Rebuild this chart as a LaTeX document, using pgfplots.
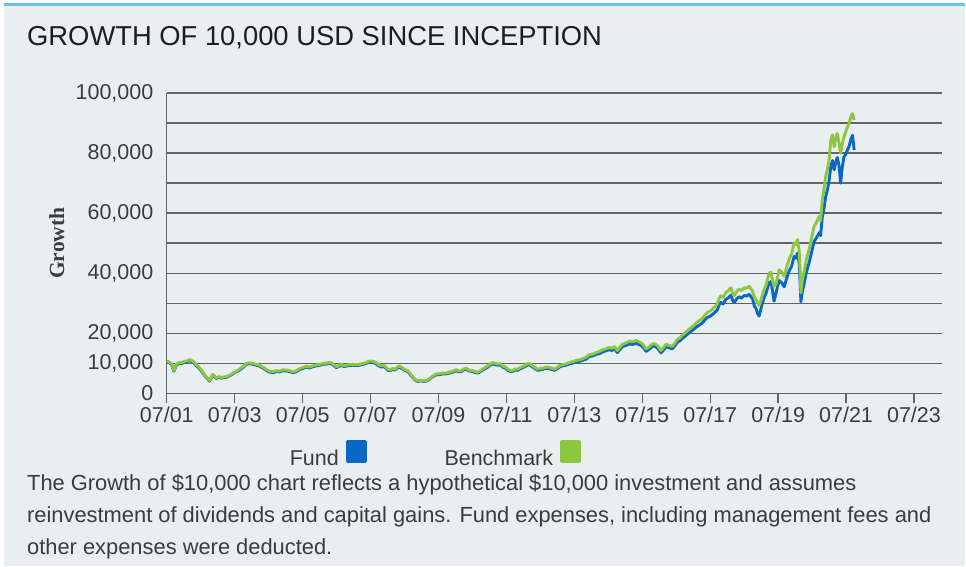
\documentclass[border=0pt]{standalone}
\usepackage{fontspec}
\setmainfont{Liberation Sans}
\newfontfamily\serifbold{Liberation Serif}
\usepackage{pgfplots}
\usepackage{pgfplotstable}
\pgfplotsset{compat=1.18}
\definecolor{bg}{HTML}{E9EEF1}
\definecolor{topline}{HTML}{62C4EE}
\definecolor{gridc}{HTML}{5E6569}
\definecolor{fundc}{HTML}{0868C4}
\definecolor{benchc}{HTML}{8DC63F}
\definecolor{txt}{HTML}{3C3C3C}
\definecolor{titlec}{HTML}{1E1E1E}

\pgfplotstableread{
x fund bench
2001.50 10700 10800
2001.58 10200 10400
2001.64 9600 9800
2001.71 7400 7600
2001.78 9400 9700
2001.86 10000 10300
2001.93 9900 10200
2002.01 10400 10700
2002.08 10500 10800
2002.18 11000 11300
2002.24 10600 10900
2002.30 10200 10500
2002.36 9300 9600
2002.42 8800 9100
2002.50 7700 8000
2002.57 6700 6900
2002.64 5600 5800
2002.70 5000 5200
2002.75 4100 4300
2002.80 5000 5200
2002.86 6200 6400
2002.92 5400 5600
2002.96 5000 5200
2003.04 5400 5600
2003.11 5100 5300
2003.18 5300 5500
2003.25 5400 5600
2003.33 5800 6000
2003.40 6200 6400
2003.48 6800 7000
2003.55 7300 7500
2003.62 7600 7900
2003.70 8300 8600
2003.77 8900 9200
2003.84 9700 10000
2003.92 9900 10200
2003.99 9800 10100
2004.07 9600 9900
2004.14 9400 9700
2004.21 9200 9500
2004.28 8800 9100
2004.36 8300 8600
2004.43 7700 8000
2004.50 7200 7500
2004.56 7100 7400
2004.63 6900 7200
2004.72 7300 7600
2004.82 7200 7500
2004.92 7600 7900
2005.02 7500 7800
2005.12 7300 7600
2005.22 6900 7200
2005.32 7300 7600
2005.41 8000 8300
2005.50 8300 8600
2005.61 8800 9100
2005.70 8500 8800
2005.80 8900 9200
2005.90 9200 9500
2006.00 9400 9700
2006.10 9700 10000
2006.20 9800 10100
2006.27 10000 10300
2006.34 9900 10200
2006.42 9300 9600
2006.49 8600 8900
2006.57 9000 9300
2006.64 9400 9700
2006.71 9000 9300
2006.78 9100 9400
2006.88 9300 9600
2006.98 9400 9700
2007.08 9300 9600
2007.18 9400 9700
2007.27 9700 10000
2007.37 10000 10300
2007.47 10500 10800
2007.52 10400 10800
2007.60 10200 10600
2007.67 9800 10200
2007.74 9200 9600
2007.81 8800 9200
2007.88 9000 9400
2007.94 8500 8900
2008.01 7700 8000
2008.08 7600 7900
2008.14 8000 8300
2008.21 7800 8100
2008.28 8400 8700
2008.35 8800 9200
2008.40 8400 8800
2008.45 8100 8400
2008.52 7600 7900
2008.60 7300 7600
2008.67 6300 6600
2008.75 5200 5400
2008.82 4400 4600
2008.89 4000 4200
2008.96 4200 4400
2009.03 4100 4300
2009.09 4000 4200
2009.17 4300 4500
2009.24 4800 5000
2009.33 5600 5800
2009.43 6200 6500
2009.53 6300 6600
2009.63 6500 6800
2009.72 6500 6800
2009.82 6800 7100
2009.92 7100 7400
2010.02 7600 7900
2010.10 7200 7500
2010.17 7300 7600
2010.25 7900 8200
2010.32 8000 8400
2010.40 7500 7800
2010.51 7300 7600
2010.58 7000 7300
2010.66 6800 7100
2010.73 7300 7600
2010.80 7800 8100
2010.88 8300 8700
2010.95 8800 9200
2011.02 9400 9800
2011.10 9900 10300
2011.17 9600 10000
2011.24 9400 9800
2011.32 9500 9900
2011.39 8800 9200
2011.47 8400 8800
2011.54 7700 8100
2011.62 7300 7600
2011.69 7400 7700
2011.76 7800 8200
2011.83 7700 8100
2011.90 8200 8600
2011.98 8600 9000
2012.05 9000 9400
2012.13 9600 10000
2012.20 9400 9800
2012.27 8800 9200
2012.35 8200 8600
2012.42 7700 8100
2012.50 7900 8300
2012.57 8000 8400
2012.66 8400 8800
2012.76 8300 8700
2012.84 8000 8400
2012.91 7700 8100
2012.98 8100 8500
2013.06 8800 9200
2013.15 9200 9600
2013.25 9400 9800
2013.35 9800 10300
2013.45 10100 10600
2013.55 10500 11000
2013.65 10700 11200
2013.75 11100 11600
2013.84 11400 12000
2013.94 12300 12900
2014.04 12500 13100
2014.14 13000 13600
2014.24 13300 14000
2014.33 13800 14500
2014.43 14200 14900
2014.53 14600 15300
2014.60 14300 15000
2014.68 14900 15600
2014.73 14100 14800
2014.77 13600 14300
2014.85 14800 15600
2014.92 15600 16400
2015.02 16000 16800
2015.12 16500 17400
2015.22 16300 17200
2015.31 16700 17600
2015.38 16400 17300
2015.46 16000 16900
2015.54 15200 16000
2015.61 14000 14800
2015.68 14500 15300
2015.75 15200 16000
2015.82 15800 16600
2015.90 15600 16400
2015.97 14800 15600
2016.05 13500 14300
2016.12 14400 15200
2016.20 15500 16400
2016.28 15200 16000
2016.39 14900 15700
2016.46 15900 16800
2016.54 17100 18100
2016.62 17600 18600
2016.69 18400 19500
2016.78 19200 20400
2016.88 20200 21400
2016.98 21000 22300
2017.08 22000 23400
2017.17 22700 24200
2017.27 23500 25000
2017.35 24600 26200
2017.42 25300 27000
2017.50 25700 27400
2017.57 26300 28100
2017.64 27000 28900
2017.71 27800 29800
2017.76 29400 31500
2017.81 30300 32500
2017.88 29800 32000
2017.96 31300 33600
2018.03 31800 34200
2018.11 32700 35200
2018.16 31000 33400
2018.21 30200 32600
2018.28 31500 34000
2018.35 32200 34700
2018.42 31700 34200
2018.50 32600 35200
2018.57 32400 35000
2018.65 33000 35700
2018.70 32200 34800
2018.75 31400 34000
2018.80 29000 32000
2018.84 28500 31400
2018.90 26500 30000
2018.94 25800 29300
2018.99 28000 30800
2019.04 30300 33000
2019.09 32000 34700
2019.14 33200 36000
2019.20 35500 38500
2019.24 37000 40100
2019.29 37200 40300
2019.33 34500 38000
2019.38 30700 35700
2019.43 33000 36200
2019.48 35500 38500
2019.53 37600 41200
2019.60 36900 40500
2019.68 35500 39000
2019.75 38300 42000
2019.82 40600 44500
2019.90 42400 46500
2019.97 45600 50100
2020.02 45000 49500
2020.07 46700 51200
2020.12 43300 47500
2020.15 36000 40000
2020.17 30500 33500
2020.21 33800 37500
2020.26 36200 40100
2020.33 40300 44500
2020.41 43400 47800
2020.48 46800 51500
2020.56 50600 55600
2020.63 51800 57000
2020.71 53500 58900
2020.75 52500 57500
2020.80 58600 64400
2020.85 61500 68000
2020.90 65500 72200
2020.95 67700 74500
2021.00 70700 77700
2021.05 75500 84300
2021.10 77500 86000
2021.15 74400 82100
2021.20 77000 85000
2021.24 78500 86500
2021.29 76000 83500
2021.34 70000 79900
2021.39 75500 83000
2021.44 78800 85400
2021.49 79500 87000
2021.54 81000 88700
2021.59 82200 90000
2021.64 84500 92000
2021.69 85900 93100
2021.74 81000 91000
}\growthdata

\begin{document}
\begin{tikzpicture}[x=1pt,y=1pt]
\fill[white] (0,0) rectangle (966,567);
\fill[bg] (4,0) rectangle (966,563);
\draw[topline, line width=2.4pt] (4,562.5) -- (966,562.5);
\node[anchor=base west, inner sep=0pt, text=titlec] at (27,521)
  {\fontsize{27.4}{30}\selectfont GROWTH OF 10,000 USD SINCE INCEPTION};

\begin{axis}[
  at={(167pt,173pt)}, anchor=south west,
  scale only axis, width=776pt, height=301pt,
  xmin=2001.5, xmax=2024.32, ymin=0, ymax=100000,
  axis x line*=bottom, axis y line*=left,
  axis line style={-, gridc, line width=1.4pt},
  xtick={2001.5,2003.5,2005.5,2007.5,2009.5,2011.5,2013.5,2015.5,2017.5,2019.5,2021.5,2023.5},
  xticklabels={07/01,07/03,07/05,07/07,07/09,07/11,07/13,07/15,07/17,07/19,07/21,07/23},
  ytick={0,10000,20000,40000,60000,80000,100000},
  minor ytick={30000,50000,70000,90000},
  ymajorgrids, yminorgrids,
  major grid style={gridc, line width=1.4pt},
  minor grid style={gridc, line width=1.4pt},
  tick align=outside,
  major tick length=10pt,
  minor tick length=0pt,
  xtick style={gridc, line width=1.4pt},
  ytick style={draw=none},
  scaled y ticks=false,
  yticklabel style={/pgf/number format/.cd, fixed, 1000 sep={,}},
  /pgf/number format/assume math mode=true,
  tick label style={font=\fontsize{21.5}{24}\selectfont, text=txt},
  ylabel={Growth},
  every axis y label/.style={at={(axis description cs:-0.1418,0.5)}, rotate=90, anchor=center,
     font=\serifbold\bfseries\fontsize{21.5}{24}\selectfont, text=txt},
  legend columns=2,
  legend plot pos=right,
  legend style={at={(axis description cs:0.1585,-0.1528)}, anchor=north west,
     draw=none, fill=none, inner sep=0pt,
     font=\fontsize{21.5}{24}\selectfont, text=txt,
     nodes={inner sep=0pt},
     /tikz/every odd column/.append style={column sep=7pt},
     /tikz/every even column/.append style={column sep=78pt}},
  legend image code/.code={\fill[#1] (0pt,-2.4pt) rectangle (18pt,17.6pt);},
]
\addplot[fundc, line width=2.9pt, line join=round] table[x=x, y=fund] {\growthdata};
\addlegendentry{Fund}
\addplot[benchc, line width=2.9pt, line join=round] table[x=x, y=bench] {\growthdata};
\addlegendentry{Benchmark}
\end{axis}

\begin{scope}[every node/.style={anchor=base west, inner sep=0pt, text=txt, font=\fontsize{21.9}{24}\selectfont}]
\node at (27,76) {The Growth of \$10,000 chart reflects a hypothetical \$10,000 investment and assumes};
\node at (27,44) {reinvestment of dividends and capital gains. Fund expenses, including management fees and};
\node at (27,12) {other expenses were deducted.};
\end{scope}
\end{tikzpicture}
\end{document}
